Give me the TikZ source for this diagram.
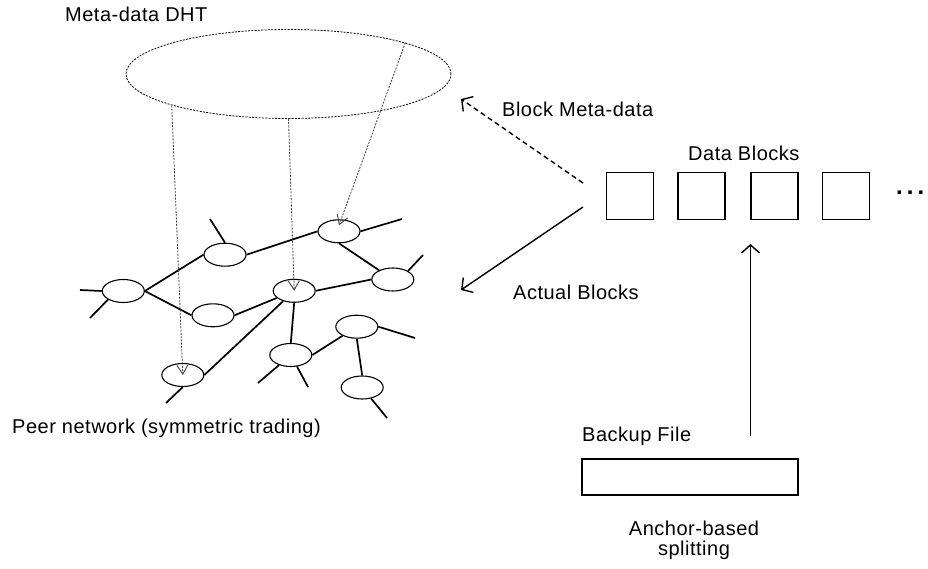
\documentclass[tikz,border=0pt]{standalone}
\usepackage{fontspec}
\usetikzlibrary{arrows.meta,shapes.geometric}
\newfontfamily\labfont{Liberation Sans}[LetterSpace=2.5]
\begin{document}
\begin{tikzpicture}[x=1pt,y=-1pt,
  lbl/.style={font=\labfont\fontsize{20}{24}\selectfont, inner sep=0pt, anchor=base west},
  peer/.style={ellipse, draw, line width=1.1pt, minimum width=42pt, minimum height=23pt, inner sep=0pt},
  link/.style={line width=1.7pt},
  lookup/.style={line width=0.8pt, black!75, dash pattern=on 2pt off 1.3pt,
    -{Straight Barb[length=9pt,width=11pt,line width=0.9pt]}},
  block/.style={draw, line width=1.5pt, minimum width=47pt, minimum height=47pt, inner sep=0pt},
  flow/.style={line width=1.4pt, -{Straight Barb[length=8pt,width=18pt,line width=1.4pt]}}]
\useasboundingbox (0,0) rectangle (928,569);

% meta-data DHT
\node[ellipse, draw, line width=0.8pt, dash pattern=on 2pt off 1.3pt,
  minimum width=325pt, minimum height=89pt, inner sep=0pt] (dht) at (288.5,74) {};
\node[lbl] (dhtlabel) at (65,21.7) {Meta-data DHT};

% peer network
\node[peer] (n1) at (123.3,291) {};
\node[peer] (n2) at (225,254.7) {};
\node[peer] (n3) at (213,315.3) {};
\node[peer] (n4) at (339,231.3) {};
\node[peer] (n5) at (294.2,290.8) {};
\node[peer] (n6) at (392.8,279.5) {};
\node[peer] (n7) at (356.8,326.7) {};
\node[peer] (n8) at (290.8,355) {};
\node[peer] (n9) at (362.2,387.5) {};
\node[peer] (n10) at (182.8,375) {};

% loose ends of the network
\coordinate (s1a) at (80,290);
\coordinate (s1b) at (90,318);
\coordinate (s2) at (210,219);
\coordinate (s4) at (402,219);
\coordinate (s6) at (423,255);
\coordinate (s7) at (415,338);
\coordinate (s8a) at (258,383);
\coordinate (s8b) at (308,387);
\coordinate (s9) at (387,418);
\coordinate (s10) at (166,403);

\draw[link] (n1.west) -- (s1a);
\draw[link] (n1.south west) -- (s1b);
\draw[link] (n1.east) -- (n2.west);
\draw[link] (n1.east) -- (n3.west);
\draw[link] (n2.north) -- (s2);
\draw[link] (n2.east) -- (n4.west);
\draw[link] (n4.east) -- (s4);
\draw[link] (n4.south) -- (n6);
\draw[link] (n6.north east) -- (s6);
\draw[link] (n3.east) -- (n5);
\draw[link] (n5.east) -- (n6.west);
\draw[link] (n5) -- (n10.east);
\draw[link] (n5.south) -- (n8.north);
\draw[link] (n8.east) -- (n7);
\draw[link] (n7.south) -- (n9.north);
\draw[link] (n7.east) -- (s7);
\draw[link] (n8) -- (s8a);
\draw[link] (n8) -- (s8b);
\draw[link] (n9) -- (s9);
\draw[link] (n10.south) -- (s10);

\node[lbl] (peerlabel) at (12,433) {Peer network (symmetric trading)};

% lookups from the DHT into the peers
\draw[lookup] (dht.-165) -- (n10.center);
\draw[lookup] (dht.-90) -- (n5.center);
\draw[lookup] (dht.15.6) -- ([yshift=6pt]n4.center);

% data blocks
\node[block] (b1) at (630,196) {};
\node[block] (b2) at (701.7,196) {};
\node[block] (b3) at (774.3,196) {};
\node[block] (b4) at (846,196) {};
\node[lbl, font=\labfont\bfseries\fontsize{24}{28}\selectfont] (more) at (896,194.3) {.\kern4pt.\kern4pt.};
\node[lbl] (blockslabel) at (688,160.5) {Data Blocks};

% outgoing arrows
\coordinate (mdfrom) at (583,183);
\coordinate (mdto) at (461,99);
\coordinate (abfrom) at (583,207);
\coordinate (abto) at (461,290);
\draw[flow, dash pattern=on 5pt off 3.5pt] (mdfrom) -- (mdto);
\draw[flow] (abfrom) -- (abto);
\node[lbl] (mdlabel) at (502,117) {Block Meta-data};
\node[lbl] (ablabel) at (513,299.5) {Actual Blocks};

% backup file and splitting
\node[draw, line width=1.5pt, minimum width=216pt, minimum height=36pt, inner sep=0pt] (file) at (690,477) {};
\node[lbl] (filelabel) at (582,441.5) {Backup File};
\coordinate (splitfrom) at (750.5,436);
\draw[flow] (splitfrom) -- (750.5,244);
\node[lbl, anchor=base] (split1) at (694,535) {Anchor-based};
\node[lbl, anchor=base] (split2) at (694,555) {splitting};
\end{tikzpicture}
\end{document}
